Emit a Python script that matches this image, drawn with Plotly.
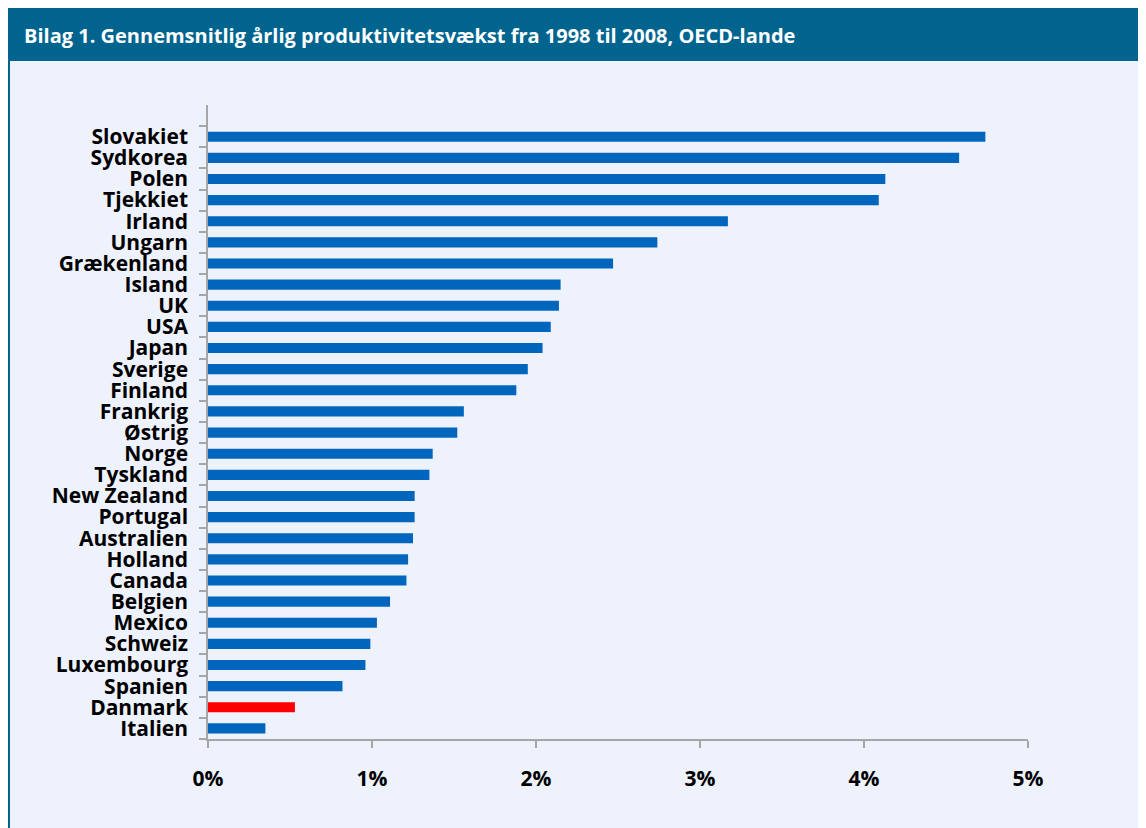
import plotly.graph_objects as go

countries = ["Slovakiet", "Sydkorea", "Polen", "Tjekkiet", "Irland", "Ungarn", "Grækenland",
             "Island", "UK", "USA", "Japan", "Sverige", "Finland", "Frankrig", "Østrig",
             "Norge", "Tyskland", "New Zealand", "Portugal", "Australien", "Holland",
             "Canada", "Belgien", "Mexico", "Schweiz", "Luxembourg", "Spanien",
             "Danmark", "Italien"]
growth = [4.74, 4.58, 4.13, 4.09, 3.17, 2.74, 2.47,
          2.15, 2.14, 2.09, 2.04, 1.95, 1.88, 1.56, 1.52,
          1.37, 1.35, 1.26, 1.26, 1.25, 1.22,
          1.21, 1.11, 1.03, 0.99, 0.96, 0.82,
          0.53, 0.35]
highlight = "Danmark"
x_ticks = [0, 1, 2, 3, 4, 5]
x_ticktext = ["0%", "1%", "2%", "3%", "4%", "5%"]
title_text = "Bilag 1. Gennemsnitlig årlig produktivitetsvækst fra 1998 til 2008, OECD-lande"

OFF = 8                      # page body margin
W, H = 1146 - OFF, 828 - OFF
# plot area in screen px: x 208..1028, y 105..739
ML, MT = 208 - OFF, 105 - OFF
MR = W - (1028 - OFF)
MB = H - (739 - OFF)
BLUE = "#0066BD"
RED = "#FF0000"
HEAD = "#00648F"
BG = "#EEF2FD"
GREY = "#A6A6A6"
FONT = "Open Sans"

colors = [RED if c == highlight else BLUE for c in countries]

fig = go.Figure(go.Bar(
    x=growth, y=countries, orientation="h",
    marker=dict(color=colors, line=dict(width=0)),
))

pw, ph = W - ML - MR, H - MT - MB
def px_x(s):  # screen px -> paper
    return (s - OFF - ML) / pw
def px_y(s):
    return (H - MB - (s - OFF)) / ph

shapes = [
    # title bar
    dict(type="rect", xref="paper", yref="paper", x0=px_x(0), x1=px_x(1160),
         y0=px_y(61), y1=px_y(0), fillcolor=HEAD, line=dict(width=0), layer="below"),
    # left stripe
    dict(type="rect", xref="paper", yref="paper", x0=px_x(0), x1=px_x(10),
         y0=px_y(840), y1=px_y(0), fillcolor=HEAD, line=dict(width=0), layer="below"),
]

fig.update_layout(
    width=W, height=H,
    margin=dict(l=ML, r=MR, t=MT, b=MB),
    paper_bgcolor=BG, plot_bgcolor=BG,
    bargap=0.52,
    showlegend=False,
    shapes=shapes,
    annotations=[dict(text=title_text, xref="paper", yref="paper",
                      x=px_x(22), y=px_y(35), xanchor="left", yanchor="middle",
                      showarrow=False, font=dict(family=FONT, size=20, color="white",
                                                 weight="bold"))],
    xaxis=dict(range=[0, 5], tickmode="array", tickvals=x_ticks, ticktext=x_ticktext,
               showgrid=False, zeroline=False, showline=True, linecolor=GREY, linewidth=1.5,
               ticks="outside", ticklen=7, tickcolor=GREY, tickwidth=1.5,
               ticklabelstandoff=13,
               tickfont=dict(family=FONT, size=21, color="black", weight="bold")),
    yaxis=dict(type="category", categoryorder="array", categoryarray=countries[::-1],
               range=[-0.5, len(countries) + 0.5],
               tickmode="linear", tick0=0, dtick=1,
               showgrid=False, zeroline=False, showline=True, linecolor=GREY, linewidth=1.5,
               ticks="outside", ticklen=7, tickcolor=GREY, tickwidth=1.5, tickson="boundaries",
               ticklabelstandoff=14,
               tickfont=dict(family=FONT, size=21, color="black", weight="bold")),
)

fig.write_html("out.html")
